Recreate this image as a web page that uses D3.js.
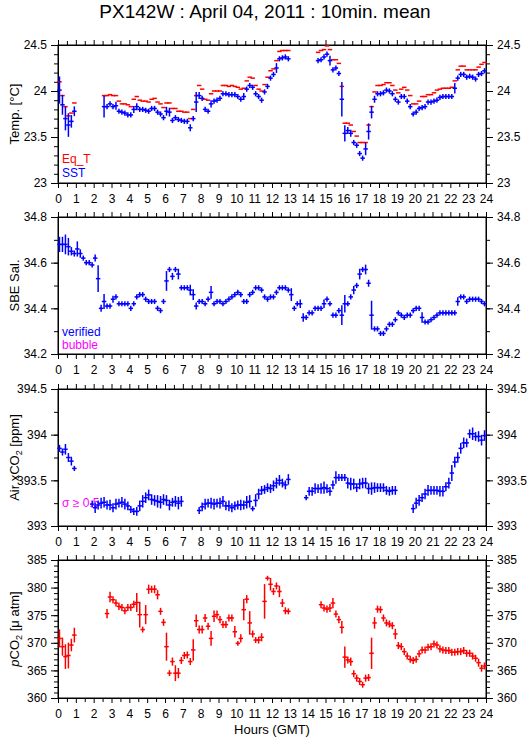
<!DOCTYPE html>
<html>
<head>
<meta charset="utf-8">
<script src="https://cdn.jsdelivr.net/npm/d3@7"></script>
<style>
  body { margin: 0; background: #fff; }
  text { font-family: "Liberation Sans", Arial, Helvetica, sans-serif; }
</style>
</head>
<body>
<svg id="chart" width="529" height="739"></svg>
<script>
// 10 minute means, one slot per 10 min (144 slots), null = no data

var title = "PX142W : April 04, 2011 : 10min. mean";
var hourTicks = [0,1,2,3,4,5,6,7,8,9,10,11,12,13,14,15,16,17,18,19,20,21,22,23,24];

var eqT = [24.10,23.95,23.83,23.73,23.76,23.87,
  null,null,null,null,null,null,null,null,null,
  23.95,23.95,23.96,23.95,23.95,23.89,23.86,23.86,23.85,23.83,
  23.91,23.94,23.90,23.89,23.89,23.88,23.91,23.92,23.88,23.86,
  23.82,23.87,23.87,23.81,23.81,23.78,23.78,23.77,23.77,23.70,
  23.80,23.95,24.06,24.02,23.91,23.90,23.97,24.00,24.00,24.00,
  24.06,24.06,24.05,24.06,24.05,24.04,24.02,24.03,24.11,24.15,
  24.14,24.06,24.02,
  24.00,24.07,24.15,24.22,24.24,24.33,24.43,24.44,24.44,24.44,
  null,null,null,null,null,null,null,null,null,
  24.42,24.44,24.45,24.49,24.45,24.34,24.34,24.30,24.05,23.65,
  23.65,23.63,23.56,23.51,23.44,23.44,23.44,23.63,23.83,23.99,
  24.06,24.06,24.07,24.09,24.09,24.06,24.01,23.98,24.02,24.04,
  24.01,23.95,23.86,23.86,23.89,23.94,23.94,23.96,23.96,23.98,
  24.01,24.02,24.03,24.03,24.03,24.04,24.11,24.23,24.27,24.27,
  24.23,24.23,24.23,24.23,24.26,24.29,24.31];

var sst = [24.01,23.85,23.70,23.63,23.67,23.78,
  null,null,null,null,null,null,null,null,null,
  23.83,23.83,23.86,23.83,23.84,23.78,23.77,23.76,23.74,23.74,
  23.80,23.83,23.80,23.80,23.79,23.78,23.81,23.81,23.77,23.75,
  23.71,23.78,23.77,23.68,23.71,23.69,23.68,23.67,23.67,23.60,
  23.70,23.88,23.95,23.92,23.80,23.78,23.86,23.89,23.90,23.92,
  23.97,23.97,23.96,23.96,23.96,23.94,23.91,23.94,24.02,24.06,
  24.04,23.97,23.94,
  23.90,23.99,24.05,24.14,24.18,24.25,24.35,24.36,24.37,24.35,
  null,null,null,null,null,null,null,null,null,
  24.33,24.34,24.37,24.40,24.33,24.23,24.25,24.19,23.91,23.54,
  23.57,23.54,23.44,23.41,23.32,23.27,23.37,23.56,23.77,23.91,
  23.97,23.97,23.98,24.01,24.00,23.97,23.91,23.88,23.94,23.94,
  23.89,23.83,23.75,23.77,23.81,23.82,23.83,23.88,23.88,23.89,
  23.90,23.93,23.94,23.94,23.94,23.94,24.03,24.14,24.18,24.18,
  24.15,24.16,24.15,24.13,24.18,24.19,24.22];

var sstErr = [.14,.10,.12,.12,.06,.045,
  null,null,null,null,null,null,null,null,null,
  .11,.02,.02,.02,.035,.02,.02,.02,.02,.02,
  .03,.03,.02,.02,.02,.02,.02,.02,.02,.02,
  .02,.04,.04,.02,.02,.02,.02,.02,.02,.03,
  .02,.10,.03,.02,.02,.02,.03,.02,.02,.02,
  .02,.02,.02,.02,.02,.02,.02,.03,.02,.02,
  .02,.02,.02,
  .02,.02,.02,.02,.02,.045,.02,.02,.02,.02,
  null,null,null,null,null,null,null,null,null,
  .02,.02,.02,.02,.045,.02,.02,.02,.18,.08,
  .03,.03,.02,.02,.02,.02,.06,.08,.06,.03,
  .02,.02,.02,.02,.02,.02,.02,.02,.02,.02,
  .02,.02,.02,.02,.02,.02,.02,.02,.02,.02,
  .02,.02,.02,.02,.02,.02,.05,.02,.02,.02,
  .02,.02,.02,.02,.02,.02,.02];

var sal = [34.68,34.68,34.68,34.67,34.65,34.64,34.66,34.64,34.62,34.60,
  34.60,34.59,34.62,34.53,34.40,34.43,34.41,34.41,34.44,34.45,
  34.42,34.42,34.42,34.42,34.40,34.42,34.45,34.46,34.46,34.44,
  34.43,34.43,34.43,34.40,34.39,34.43,34.52,34.57,34.54,34.57,
  34.55,34.49,34.49,34.49,34.48,34.46,34.41,34.43,34.43,34.42,
  34.44,34.47,34.42,34.43,34.43,34.42,34.43,34.44,34.45,34.46,
  34.47,34.46,34.43,34.43,34.46,34.47,34.49,34.49,34.48,34.45,
  34.44,34.45,34.45,34.47,34.49,34.49,34.49,34.48,34.46,34.40,
  34.42,34.42,34.36,34.36,34.38,34.38,34.40,34.40,34.40,34.42,
  34.44,34.42,34.37,34.37,34.39,34.37,34.42,34.42,34.45,34.48,
  34.50,34.55,34.57,34.57,34.51,34.37,34.31,34.31,34.29,34.29,
  34.31,34.33,34.33,34.35,34.38,34.37,34.36,34.37,34.37,34.39,
  34.40,34.40,34.36,34.34,34.34,34.35,34.36,34.37,34.38,34.38,
  34.38,34.38,34.38,34.38,34.43,34.45,34.45,34.43,34.44,34.44,
  34.44,34.44,34.43,34.42];

var salErr = [.03,.03,.04,.035,.015,.01,.03,.015,.008,.008,
  .008,.008,.012,.055,.012,.03,.008,.008,.012,.008,
  .008,.008,.008,.008,.008,.008,.008,.008,.008,.008,
  .008,.008,.008,.008,.008,.008,.04,.008,.012,.008,
  .02,.008,.008,.008,.02,.02,.012,.008,.008,.008,
  .008,.025,.008,.008,.008,.008,.008,.008,.008,.008,
  .008,.008,.008,.008,.008,.008,.008,.008,.008,.008,
  .008,.008,.008,.008,.008,.008,.008,.008,.025,.008,
  .008,.015,.015,.008,.008,.008,.008,.008,.008,.015,
  .008,.008,.008,.008,.008,.04,.035,.008,.008,.015,
  .008,.02,.008,.018,.012,.06,.008,.008,.008,.008,
  .008,.008,.008,.008,.008,.008,.008,.008,.008,.008,
  .008,.008,.02,.008,.008,.008,.008,.008,.008,.008,
  .008,.008,.008,.008,.015,.008,.008,.008,.008,.008,
  .008,.008,.008,.008];

var airCO2 = [393.85,393.81,393.84,393.75,393.71,393.63,
  null,null,null,null,null,
  393.24,393.20,393.23,393.25,393.26,393.23,393.23,393.20,393.24,393.25,
  393.26,393.24,393.22,393.18,393.16,393.16,393.22,393.27,393.31,393.34,
  393.29,393.28,393.27,393.26,393.29,393.28,393.23,393.26,393.27,393.25,393.27,
  null,null,null,null,null,
  393.17,393.21,393.24,393.25,393.25,393.24,393.25,393.25,393.27,393.22,
  393.22,393.20,393.22,393.23,393.23,393.23,393.26,393.27,393.19,393.28,393.35,
  393.39,393.40,393.42,393.41,393.44,393.47,393.50,393.47,393.45,393.51,
  null,null,null,null,null,
  393.31,393.38,393.38,393.41,393.41,393.41,393.42,393.41,393.38,393.45,
  393.53,393.53,393.53,393.53,393.47,393.46,393.46,393.42,393.46,393.47,
  393.47,393.41,393.41,393.42,393.42,393.42,393.42,393.39,393.38,393.39,393.39,
  null,null,null,null,null,
  393.19,393.25,393.28,393.31,393.35,393.39,393.39,393.39,393.39,393.38,
  393.38,393.43,393.47,393.58,393.70,393.75,393.85,393.91,393.91,394.01,
  394.01,393.98,393.98,393.94,393.99];

var airCO2Err = [.03,.03,.05,.04,.04,.02,
  null,null,null,null,null,
  .03,.05,.04,.05,.05,.04,.05,.04,.05,.04,
  .05,.05,.04,.03,.03,.04,.05,.06,.05,.05,
  .05,.05,.06,.06,.05,.05,.05,.04,.05,.06,.05,
  null,null,null,null,null,
  .03,.04,.05,.04,.05,.05,.04,.05,.05,.04,
  .05,.04,.04,.04,.05,.04,.06,.06,.02,.06,.05,
  .04,.04,.04,.04,.05,.05,.05,.04,.04,.05,
  null,null,null,null,null,
  .02,.04,.04,.05,.04,.05,.06,.04,.04,.04,
  .06,.03,.03,.03,.05,.06,.05,.04,.05,.05,
  .05,.05,.06,.05,.04,.04,.04,.04,.04,.04,.04,
  null,null,null,null,null,
  .04,.05,.05,.04,.05,.05,.04,.04,.04,.05,
  .05,.04,.05,.08,.05,.05,.05,.05,.04,.04,
  .06,.04,.05,.05,.05];

var pCO2 = [370.8,369.3,367.5,367.7,369.6,371.4,
  null,null,null,null,null,null,null,null,null,null,
  375.3,378.3,377.8,377.2,376.6,376.4,375.8,376.4,376.4,377.0,
  377.3,375.1,372.4,375.1,379.7,379.7,379.7,378.7,375.7,373.7,
  369.3,364.5,366.6,364.5,364.5,366.8,367.7,367.8,366.6,368.7,
  374.0,372.4,372.4,374.5,373.0,370.8,374.8,375.1,374.2,373.3,
  373.3,374.5,374.5,372.0,369.9,370.8,376.0,377.9,373.6,371.6,
  370.5,370.5,371.0,377.5,381.7,380.6,379.3,380.3,379.3,377.2,375.8,375.7,
  null,null,null,null,null,null,null,null,null,null,
  376.9,376.3,376.1,376.3,377.2,375.2,374.2,372.8,367.4,366.9,
  366.6,364.4,363.6,363.0,362.4,363.6,363.7,368.1,373.6,376.1,
  376.0,374.5,373.6,373.4,373.1,371.6,369.5,369.3,368.4,367.6,
  367.0,366.8,367.0,368.0,368.7,368.7,369.2,369.3,369.8,369.6,
  368.9,368.7,368.6,368.6,368.3,368.3,368.4,368.4,368.6,368.1,
  368.1,367.6,367.2,366.4,365.4,365.8];

var pCO2Err = [1.5,1.5,2.1,2.2,1.0,1.2,
  null,null,null,null,null,null,null,null,null,null,
  .7,.8,.5,.5,.5,.5,.5,.5,.5,.5,
  1.6,2.2,.4,1.6,.7,.5,.6,.7,.5,.5,
  2.4,.4,.6,1.3,.8,.5,.5,.5,.5,1.8,
  1.0,.6,.6,.6,.5,1.2,.9,.6,.5,.5,
  .5,.5,.5,.9,.3,.6,1.8,.6,2.0,.5,
  .4,.5,.6,3.0,.3,1.0,.5,.5,.9,.6,.5,.4,
  null,null,null,null,null,null,null,null,null,null,
  .5,.5,.5,.6,.8,.5,.5,1.0,1.8,.5,
  .6,.5,.5,.5,.4,.5,.5,2.7,.9,.5,
  .5,.5,.5,.5,.5,.8,.5,.5,.5,.5,
  .5,.5,.5,.5,.5,.5,.5,.5,.5,.5,
  .5,.5,.5,.5,.5,.5,.5,.5,.5,.5,
  .5,.5,.5,.6,.5,.5];

// centre of each 10 min slot, in hours
var slotHours = d3.range(144).map(function(i) { return (i + 0.5) / 6; });
// unlabelled half hour ticks
var halfHourTicks = d3.range(0.5, 24, 1);

var red = "#ff0000", blue = "#0000ff", magenta = "#ff00ff";

var svg = d3.select("#chart");
var left = 58, right = 486;

var x = d3.scaleLinear().domain([0, 24]).range([left, right]);

var panels = [
  {top: 45, bottom: 183, domain: [23, 24.5], major: [23, 23.5, 24, 24.5], minorStep: 0.1,
   label: [{t: "Temp. [°C]"}],
   series: [{v: eqT, e: null, color: red}, {v: sst, e: sstErr, color: blue}],
   legend: [{t: "Eq_T", color: red, y: 163}, {t: "SST", color: blue, y: 177}]},
  {top: 217, bottom: 354, domain: [34.2, 34.8], major: [34.2, 34.4, 34.6, 34.8], minorStep: 0.1,
   label: [{t: "SBE Sal."}],
   series: [{v: sal, e: salErr, color: blue}],
   legend: [{t: "verified", color: blue, y: 336}, {t: "bubble", color: magenta, y: 349}]},
  {top: 389, bottom: 526, domain: [393, 394.5], major: [393, 393.5, 394, 394.5], minorStep: 0.25,
   label: [{t: "Air xCO"}, {t: "2", sub: true}, {t: " [ppm]"}],
   series: [{v: airCO2, e: airCO2Err, color: blue}],
   legend: [{t: "σ ≥ 0.5", color: magenta, y: 507}]},
  {top: 560, bottom: 698, domain: [360, 385], major: [360, 365, 370, 375, 380, 385], minorStep: 1,
   label: [{t: "p", italic: true}, {t: "CO"}, {t: "2", sub: true}, {t: " [μ atm]"}],
   series: [{v: pCO2, e: pCO2Err, color: red}],
   legend: []}
];

svg.append("text")
  .attr("x", 265).attr("y", 18)
  .attr("text-anchor", "middle")
  .style("font-size", "19px")
  .text(title);

var fmt = function(d) { return String(+d.toFixed(2)); };

panels.forEach(function(p) {
  var y = d3.scaleLinear().domain(p.domain).range([p.bottom, p.top]);
  var minor = d3.range(p.domain[0], p.domain[1] + p.minorStep / 2, p.minorStep);

  var g = svg.append("g");

  // minor ticks left / right
  g.append("g").attr("transform", "translate(" + left + ",0)")
    .call(d3.axisLeft(y).tickValues(minor).tickSize(4).tickSizeOuter(0).tickFormat(""));
  g.append("g").attr("transform", "translate(" + right + ",0)")
    .call(d3.axisRight(y).tickValues(minor).tickSize(4).tickSizeOuter(0).tickFormat(""));

  // major ticks with labels
  g.append("g").attr("transform", "translate(" + left + ",0)")
    .call(d3.axisLeft(y).tickValues(p.major).tickSize(7).tickSizeOuter(0).tickPadding(4).tickFormat(fmt));
  g.append("g").attr("transform", "translate(" + right + ",0)")
    .call(d3.axisRight(y).tickValues(p.major).tickSize(7).tickSizeOuter(0).tickPadding(4).tickFormat(fmt));

  // hour ticks top and bottom (plus half hours)
  g.append("g").attr("transform", "translate(0," + p.bottom + ")")
    .call(d3.axisBottom(x).tickValues(halfHourTicks).tickSize(4).tickSizeOuter(0).tickFormat(""));
  g.append("g").attr("transform", "translate(0," + p.top + ")")
    .call(d3.axisTop(x).tickValues(halfHourTicks).tickSize(4).tickSizeOuter(0).tickFormat(""));
  g.append("g").attr("transform", "translate(0," + p.bottom + ")")
    .call(d3.axisBottom(x).tickValues(hourTicks).tickSize(5).tickSizeOuter(0).tickPadding(6).tickFormat(d3.format("d")));
  g.append("g").attr("transform", "translate(0," + p.top + ")")
    .call(d3.axisTop(x).tickValues(hourTicks).tickSize(5).tickSizeOuter(0).tickFormat(""));

  g.selectAll(".tick text").style("font-size", "12px").attr("fill", "#000");
  g.selectAll(".tick line, .domain").attr("stroke", "#000");

  // frame
  g.append("rect")
    .attr("x", left).attr("y", p.top)
    .attr("width", right - left).attr("height", p.bottom - p.top)
    .attr("fill", "none").attr("stroke", "#000");

  // y label
  var lab = g.append("text")
    .attr("transform", "translate(19," + ((p.top + p.bottom) / 2) + ") rotate(-90)")
    .attr("text-anchor", "middle")
    .style("font-size", "13px");
  p.label.forEach(function(l, i) {
    var prevSub = i > 0 && p.label[i - 1].sub;
    lab.append("tspan")
      .attr("dy", l.sub ? 3 : (prevSub ? -3 : 0))
      .style("font-size", l.sub ? "9px" : null)
      .style("font-style", l.italic ? "italic" : null)
      .text(l.t);
  });

  // legend (drawn under the marks, as in the original)
  p.legend.forEach(function(l) {
    g.append("text")
      .attr("x", 62).attr("y", l.y)
      .attr("fill", l.color)
      .style("font-size", "12px")
      .text(l.t);
  });

  // data: cross = 10 min horizontal bar + vertical std bar
  p.series.forEach(function(s) {
    var pts = [];
    s.v.forEach(function(v, i) {
      if (v != null) pts.push({t: slotHours[i], v: v, e: s.e ? s.e[i] : null});
    });
    var mk = g.append("g")
      .attr("stroke", s.color)
      .attr("stroke-width", 1.5)
      .attr("stroke-linecap", "square");
    mk.selectAll("line.h").data(pts).enter().append("line")
      .attr("class", "h")
      .attr("x1", function(d) { return x(d.t - 1 / 12); })
      .attr("x2", function(d) { return x(d.t + 1 / 12); })
      .attr("y1", function(d) { return y(d.v); })
      .attr("y2", function(d) { return y(d.v); });
    if (s.e) {
      mk.selectAll("line.v").data(pts).enter().append("line")
        .attr("class", "v")
        .attr("x1", function(d) { return x(d.t); })
        .attr("x2", function(d) { return x(d.t); })
        .attr("y1", function(d) { return y(d.v - d.e); })
        .attr("y2", function(d) { return y(d.v + d.e); });
    }
  });
});

svg.append("text")
  .attr("x", (left + right) / 2).attr("y", 734)
  .attr("text-anchor", "middle")
  .style("font-size", "13px")
  .text("Hours (GMT)");
</script>
</body>
</html>
